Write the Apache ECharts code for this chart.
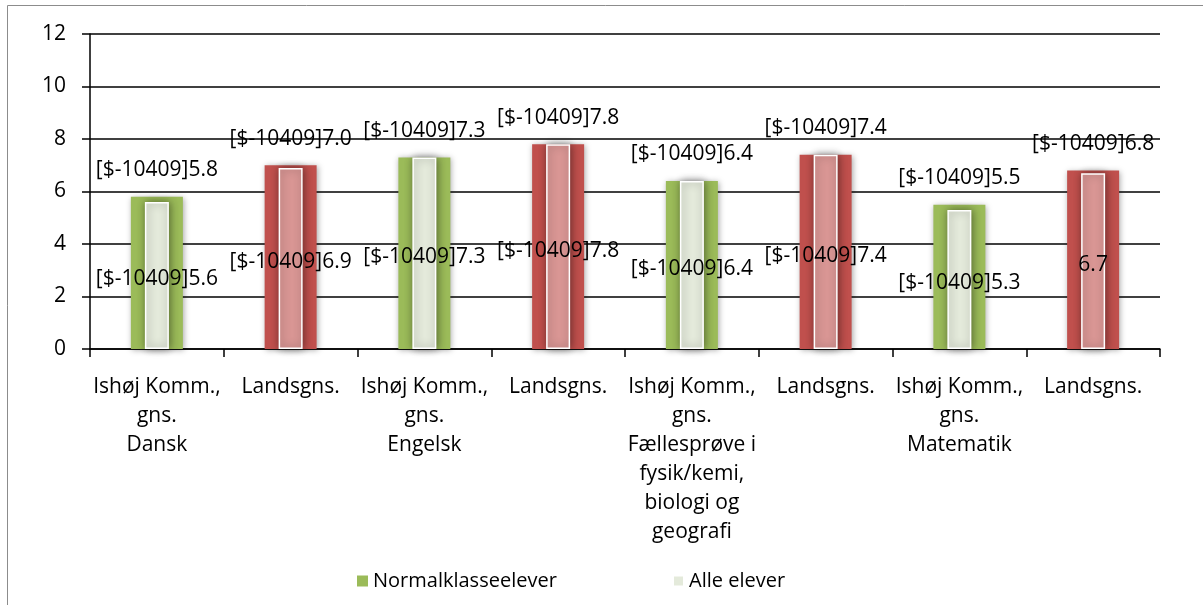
<!DOCTYPE html>
<html>
<head>
<meta charset="utf-8">
<script src="https://cdn.jsdelivr.net/npm/echarts@6/dist/echarts.min.js"></script>
<style>
  html, body { margin: 0; padding: 0; background: #fff; }
  #chart { width: 1203px; height: 605px; }
</style>
</head>
<body>
<div id="chart"></div>
<script>
// data
const categories = [
  'Ishøj Komm.,\ngns.\nDansk', 'Landsgns.',
  'Ishøj Komm.,\ngns.\nEngelsk', 'Landsgns.',
  'Ishøj Komm.,\ngns.\nFællesprøve i\nfysik/kemi,\nbiologi og\ngeografi', 'Landsgns.',
  'Ishøj Komm.,\ngns.\nMatematik', 'Landsgns.'
];
const normalValues = [5.8, 7.0, 7.3, 7.8, 6.4, 7.4, 5.5, 6.8];
const alleValues = [5.6, 6.9, 7.3, 7.8, 6.4, 7.4, 5.3, 6.7];
const normalLabels = ['[$-10409]5.8', '[$-10409]7.0', '[$-10409]7.3', '[$-10409]7.8',
  '[$-10409]6.4', '[$-10409]7.4', '[$-10409]5.5', '[$-10409]6.8'];
const alleLabels = ['[$-10409]5.6', '[$-10409]6.9', '[$-10409]7.3', '[$-10409]7.8',
  '[$-10409]6.4', '[$-10409]7.4', '[$-10409]5.3', '6.7'];
const yTicks = [0, 2, 4, 6, 8, 10, 12];

// farver
const green = '#9BBB59', lightGreen = '#E4EADB';
const red = '#C0504D', pink = '#D99694';
const font = '"Open Sans", sans-serif';

const isLands = name => name.indexOf('Landsgns') === 0;

let myCharts = echarts.init(document.getElementById('chart'));
myCharts.setOption({
  animation: false,
  textStyle: { fontFamily: font, color: '#000' },
  graphic: [{
    type: 'rect',
    shape: { x: 7.5, y: 5.5, width: 1220, height: 620 },
    style: { fill: 'none', stroke: '#8c8c8c', lineWidth: 1 },
    silent: true
  }],
  legend: [
    { left: 352, top: 566, itemWidth: 11, itemHeight: 11, itemGap: 0, icon: 'rect',
      data: ['Normalklasseelever'],
      textStyle: { fontFamily: font, fontSize: 20, color: '#000' } },
    { left: 667, top: 566, itemWidth: 11, itemHeight: 11, itemGap: 0, icon: 'rect',
      data: ['Alle elever'],
      textStyle: { fontFamily: font, fontSize: 20, color: '#000' } }
  ],
  grid: { left: 90, right: 43, top: 34, bottom: 256 },
  xAxis: [
    {
      type: 'category',
      data: categories,
      axisLine: { lineStyle: { color: '#000', width: 1.5 } },
      axisTick: { show: true, length: 8, alignWithLabel: false, lineStyle: { color: '#000', width: 1.5 } },
      axisLabel: { interval: 0, fontSize: 21, lineHeight: 29, margin: 24, color: '#000', fontFamily: font }
    },
    {
      type: 'category',
      data: categories,
      show: false
    }
  ],
  yAxis: {
    type: 'value',
    min: yTicks[0],
    max: yTicks[yTicks.length - 1],
    interval: 2,
    axisLine: { show: true, lineStyle: { color: '#000', width: 1.5 } },
    axisTick: { show: true, length: 8, lineStyle: { color: '#000', width: 1.5 } },
    axisLabel: { fontSize: 21, margin: 24, color: '#000', fontFamily: font },
    splitLine: { lineStyle: { color: '#000', width: 1.5 } }
  },
  series: [
    {
      name: 'Normalklasseelever',
      type: 'bar',
      xAxisIndex: 0,
      barWidth: 52,
      itemStyle: { color: green, shadowBlur: 6, shadowColor: 'rgba(0,0,0,0.35)', shadowOffsetX: 1, shadowOffsetY: 1 },
      data: normalValues.map((v, i) => ({
        value: v,
        itemStyle: { color: isLands(categories[i]) ? red : green }
      })),
      label: {
        show: true,
        position: 'top',
        distance: 16,
        fontSize: 21,
        fontFamily: font,
        color: '#000',
        formatter: p => normalLabels[p.dataIndex]
      },
      z: 2
    },
    {
      name: 'Alle elever',
      type: 'bar',
      xAxisIndex: 1,
      barWidth: 24,
      itemStyle: { color: lightGreen, borderColor: '#fff', borderWidth: 1.5,
        shadowBlur: 8, shadowColor: 'rgba(0,0,0,0.45)', shadowOffsetX: 1 },
      data: alleValues.map((v, i) => ({
        value: v,
        itemStyle: { color: isLands(categories[i]) ? pink : lightGreen }
      })),
      label: {
        show: true,
        position: 'inside',
        offset: [0, 4],
        fontSize: 21,
        fontFamily: font,
        color: '#000',
        formatter: p => alleLabels[p.dataIndex]
      },
      z: 3
    }
  ]
});
</script>
</body>
</html>
